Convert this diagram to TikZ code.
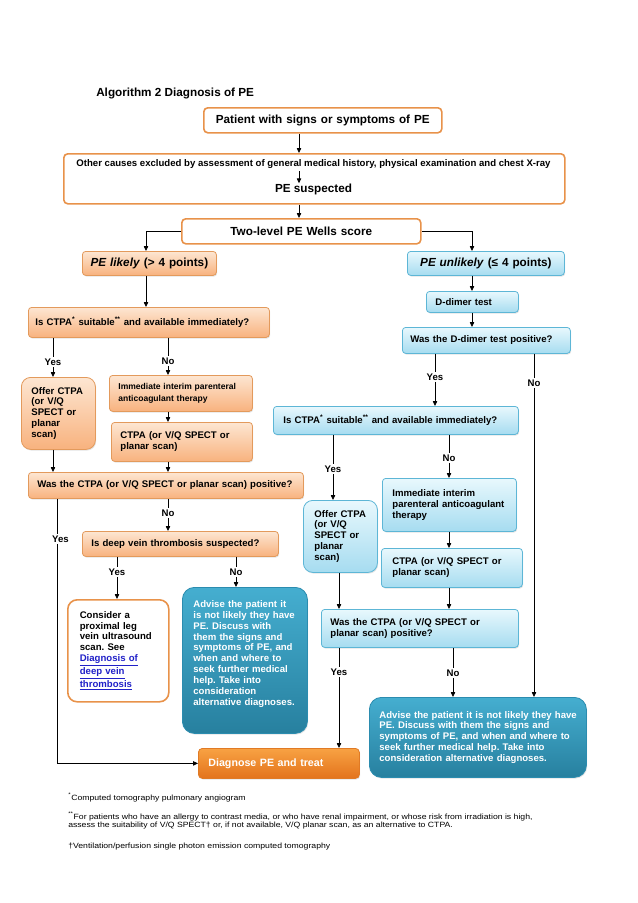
\documentclass[tikz,border=0pt]{standalone}
\usepackage{fontspec}
\setmainfont{Liberation Sans}
\newfontfamily\fnfont[FakeStretch=1.14]{Liberation Sans}
\usetikzlibrary{arrows.meta,shadows,calc}
\frenchspacing
\definecolor{oBorder}{HTML}{E39A5C}
\definecolor{oTop}{HTML}{FDE6D2}
\definecolor{oBot}{HTML}{F8B27E}
\definecolor{bBorder}{HTML}{5DB6D6}
\definecolor{bTop}{HTML}{E8F8FD}
\definecolor{bBot}{HTML}{A6DCF0}
\definecolor{tTop}{HTML}{45AED0}
\definecolor{tBot}{HTML}{27809F}
\definecolor{tBorder}{HTML}{2B8CAF}
\definecolor{dTop}{HTML}{F8A243}
\definecolor{dBot}{HTML}{E3731C}
\definecolor{dBorder}{HTML}{E07A25}
\definecolor{wBorder}{HTML}{E8924A}
\definecolor{linkc}{HTML}{2020C8}
\newcommand\fsBig{\fontsize{8.8}{10.5}\selectfont}
\newcommand\fsMid{\fontsize{7.2}{8.2}\selectfont}
\newcommand\fsSm{\fontsize{6.4}{8.8}\selectfont}
\newcommand\fsOth{\fontsize{7.2}{8.4}\selectfont}
\newcommand\fsDg{\fontsize{8}{9.6}\selectfont}
\tikzset{
  pxbox/.code n args={5}{%
    \pgfmathsetmacro\pxw{(#3-#1)*0.75}%
    \pgfmathsetmacro\pxh{(#4-#2)*0.75}%
    \pgfmathsetmacro\pxtw{(#3-#1-2*#5)*0.75}%
    \pgfmathsetmacro\pxpad{#5*0.75}%
    \edef\pxdo{\noexpand\tikzset{anchor=north west, at={(#1,#2)},
      minimum width=\pxw pt, minimum height=\pxh pt,
      text width=\pxtw pt, inner xsep=\pxpad pt}}\pxdo},
  base/.style={font=\bfseries\fsMid, inner ysep=1.5pt, align=left},
  shad/.style={drop shadow={opacity=0.22, shadow xshift=0.6pt, shadow yshift=-0.9pt}},
  obox/.style={base, shad, draw=oBorder, line width=0.6pt, top color=oTop, bottom color=oBot, rounded corners=2.5pt},
  bbox/.style={base, shad, draw=bBorder, line width=0.6pt, top color=bTop, bottom color=bBot, rounded corners=2.5pt},
  tbox/.style={base, shad, draw=tBorder, line width=0.6pt, top color=tTop, bottom color=tBot, text=white, rounded corners=8pt},
  dbox/.style={base, shad, draw=dBorder, line width=0.6pt, top color=dTop, bottom color=dBot, text=white, rounded corners=3pt, font=\bfseries\fsDg},
  wbox/.style={base, draw=wBorder, line width=1.2pt, fill=white, rounded corners=3pt},
  lbl/.style={font=\bfseries\fsMid, inner sep=1pt},
  arr/.style={-{Triangle[length=3.6pt,width=3.2pt]}, line width=0.6pt},
  ln/.style={line width=0.6pt},
  fn/.style={font=\fnfont\fontsize{5.7}{6}\selectfont, inner sep=0pt, anchor=base west}
}
\begin{document}
\begin{tikzpicture}[x=0.75pt,y=-0.75pt]
\useasboundingbox (0,0) rectangle (638,903);
% column coordinates
\coordinate (cA) at (53,0);
\coordinate (cB) at (168,0);
\coordinate (cC) at (57,0);
\coordinate (cD) at (117,0);
\coordinate (cE) at (236,0);
\coordinate (cF) at (146,0);
\coordinate (cG) at (472,0);
\coordinate (cH) at (435,0);
\coordinate (cI) at (534,0);
\coordinate (cJ) at (333,0);
\coordinate (cK) at (449,0);
\coordinate (cL) at (339,0);
\coordinate (cM) at (453,0);
\coordinate (cN) at (299,0);

\node[font=\bfseries\fsBig, anchor=west, inner sep=0pt] (title) at (96,93) {Algorithm 2 Diagnosis of PE};

\node[wbox, pxbox={203}{107}{441}{132}{0}, align=center, font=\bfseries\fsBig] (b1) {Patient with signs or symptoms of PE};
\node[wbox, pxbox={63}{153}{564}{203}{0}] (b2) {};
\node[font=\bfseries\fsOth, inner sep=0pt] (b2a) at (313.5,164.5) {Other causes excluded by assessment of general medical history, physical examination and chest X-ray};
\node[font=\bfseries\fsBig, inner sep=0pt] (b2b) at (313.5,189) {PE suspected};
\node[wbox, pxbox={181}{218}{420}{243}{0}, align=center, font=\bfseries\fsBig] (b3) {Two-level PE Wells score};

\node[obox, pxbox={82}{251}{216}{275}{0}, align=center, font=\bfseries\fsBig] (likely) {\textit{PE likely} (> 4 points)};
\node[bbox, pxbox={407}{251}{564}{275}{0}, align=center, font=\bfseries\fsBig] (unlikely) {\textit{PE unlikely} (≤ 4 points)};

% left branch
\node[obox, pxbox={28}{307}{269}{337}{7}] (ctpaL) {Is CTPA\textsuperscript{*} suitable\textsuperscript{**} and available immediately?};
\node[obox, rounded corners=7pt, pxbox={21}{377}{95}{449}{10}] (offerL) {Offer CTPA\\(or V/Q\\SPECT or\\planar\\scan)};
\node[obox, pxbox={109}{375}{252}{411}{9}, font=\bfseries\fsSm] (immL) {Immediate interim parenteral\\anticoagulant therapy};
\node[obox, pxbox={111}{422}{252}{461}{9}] (ctL) {CTPA (or V/Q SPECT or\\planar scan)};
\node[obox, pxbox={28}{472}{303}{498}{9}] (wasL) {Was the CTPA (or V/Q SPECT or planar scan) positive?};
\node[obox, pxbox={82}{531}{278}{556}{9}] (dvt) {Is deep vein thrombosis suspected?};
\node[wbox, rounded corners=7pt, pxbox={67}{599}{168}{701}{12}] (cons) {Consider a\\proximal leg\\vein ultrasound\\scan. See\\\textcolor{linkc}{\underline{Diagnosis of}}\\\textcolor{linkc}{\underline{deep vein}}\\\textcolor{linkc}{\underline{thrombosis}}};
\node[tbox, rounded corners=9pt, pxbox={182}{587}{307}{733}{11}] (advL) {Advise the patient it\\is not likely they have\\PE. Discuss with\\them the signs and\\symptoms of PE, and\\when and where to\\seek further medical\\help. Take into\\consideration\\alternative diagnoses.\\[3pt]\mbox{}};
\node[dbox, pxbox={198}{748}{359}{778}{10}] (diag) {Diagnose PE and treat};

% right branch
\node[bbox, pxbox={426}{291}{518}{312}{9}] (dd) {D-dimer test};
\node[bbox, pxbox={402}{327}{570}{353}{8}] (wasDD) {Was the D-dimer test positive?};
\node[bbox, pxbox={273}{406}{518}{434}{10}] (ctpaR) {Is CTPA\textsuperscript{*} suitable\textsuperscript{**} and available immediately?};
\node[bbox, rounded corners=7pt, pxbox={303}{500}{377}{572}{11}] (offerR) {Offer CTPA\\(or V/Q\\SPECT or\\planar\\scan)};
\node[bbox, pxbox={382}{478}{516}{531}{10}] (immR) {Immediate interim\\parenteral anticoagulant\\therapy};
\node[bbox, pxbox={381}{548}{522}{587}{11}] (ctR) {CTPA (or V/Q SPECT or\\planar scan)};
\node[bbox, pxbox={321}{609}{518}{647}{9}] (wasR) {Was the CTPA (or V/Q SPECT or\\planar scan) positive?};
\node[tbox, rounded corners=9pt, pxbox={369}{697}{586}{777}{10}] (advR) {\mbox{Advise the patient it is not likely they have}\\PE. Discuss with them the signs and\\symptoms of PE, and when and where to\\seek further medical help. Take into\\consideration alternative diagnoses.};

% labels
\node[lbl] (yL1) at (53,362) {Yes};
\node[lbl] (nL1) at (168,361) {No};
\node[lbl] (yL2) at (60.5,539) {Yes};
\node[lbl] (nL2) at (168,513) {No};
\node[lbl] (yL3) at (117,572) {Yes};
\node[lbl] (nL3) at (236,572) {No};
\node[lbl] (yR1) at (435,377) {Yes};
\node[lbl] (nR1) at (534,383) {No};
\node[lbl] (yR2) at (333,469) {Yes};
\node[lbl] (nR2) at (449,458) {No};
\node[lbl] (yR3) at (339,672) {Yes};
\node[lbl] (nR3) at (453,673) {No};

% connectors top
\draw[arr] (b1.south -| cN) -- (b2.north -| cN);
\draw[arr] (b2a.south -| cN) ++(0,2) -- (b2b.north -| cN);
\draw[arr] (b2.south -| cN) -- (b3.north -| cN);
\draw[arr] (b3.west) -| (likely.north -| cF);
\draw[arr] (b3.east) -| (unlikely.north -| cG);

% left connectors
\draw[arr] (likely.south -| cF) -- (ctpaL.north -| cF);
\draw[ln] (ctpaL.south -| cA) -- (yL1.north);
\draw[arr] (yL1.south) -- (offerL.north -| cA);
\draw[ln] (ctpaL.south -| cB) -- (nL1.north);
\draw[arr] (nL1.south) -- (immL.north -| cB);
\draw[arr] (immL.south -| cB) -- (ctL.north -| cB);
\draw[arr] (offerL.south -| cA) -- (wasL.north -| cA);
\draw[arr] (ctL.south -| cB) -- (wasL.north -| cB);
\draw[ln] (wasL.south -| cC) -- (cC |- yL2.north);
\draw[arr] (cC |- yL2.south) -- (cC |- diag.west) -- (diag.west);
\draw[ln] (wasL.south -| cB) -- (nL2.north);
\draw[arr] (nL2.south) -- (dvt.north -| cB);
\draw[ln] (dvt.south -| cD) -- (yL3.north);
\draw[arr] (yL3.south) -- (cons.north -| cD);
\draw[ln] (dvt.south -| cE) -- (nL3.north);
\draw[arr] (nL3.south) -- (advL.north -| cE);

% right connectors
\draw[arr] (unlikely.south -| cG) -- (dd.north -| cG);
\draw[arr] (dd.south -| cG) -- (wasDD.north -| cG);
\draw[ln] (wasDD.south -| cH) -- (yR1.north);
\draw[arr] (yR1.south) -- (ctpaR.north -| cH);
\draw[ln] (wasDD.south -| cI) -- (nR1.north);
\draw[arr] (nR1.south) -- (advR.north -| cI);
\draw[ln] (ctpaR.south -| cJ) -- (yR2.north);
\draw[arr] (yR2.south) -- (offerR.north -| cJ);
\draw[ln] (ctpaR.south -| cK) -- (nR2.north);
\draw[arr] (nR2.south) -- (immR.north -| cK);
\draw[arr] (immR.south -| cK) -- (ctR.north -| cK);
\draw[arr] (offerR.south -| cL) -- (wasR.north -| cL);
\draw[arr] (ctR.south -| cK) -- (wasR.north -| cK);
\draw[ln] (wasR.south -| cL) -- (yR3.north);
\draw[arr] (yR3.south) -- (diag.north -| cL);
\draw[ln] (wasR.south -| cM) -- (nR3.north);
\draw[arr] (nR3.south) -- (advR.north -| cM);

% footnotes
\node[fn] (f1) at (68,800) {\textsuperscript{*}Computed tomography pulmonary angiogram};
\node[fn] (f2a) at (68,819) {\textsuperscript{**}For patients who have an allergy to contrast media, or who have renal impairment, or whose risk from irradiation is high,};
\node[fn] (f2b) at (68,827) {assess the suitability of V/Q SPECT† or, if not available, V/Q planar scan, as an alternative to CTPA.};
\node[fn] (f3) at (68,848) {†Ventilation/perfusion single photon emission computed tomography};
\end{tikzpicture}
\end{document}
